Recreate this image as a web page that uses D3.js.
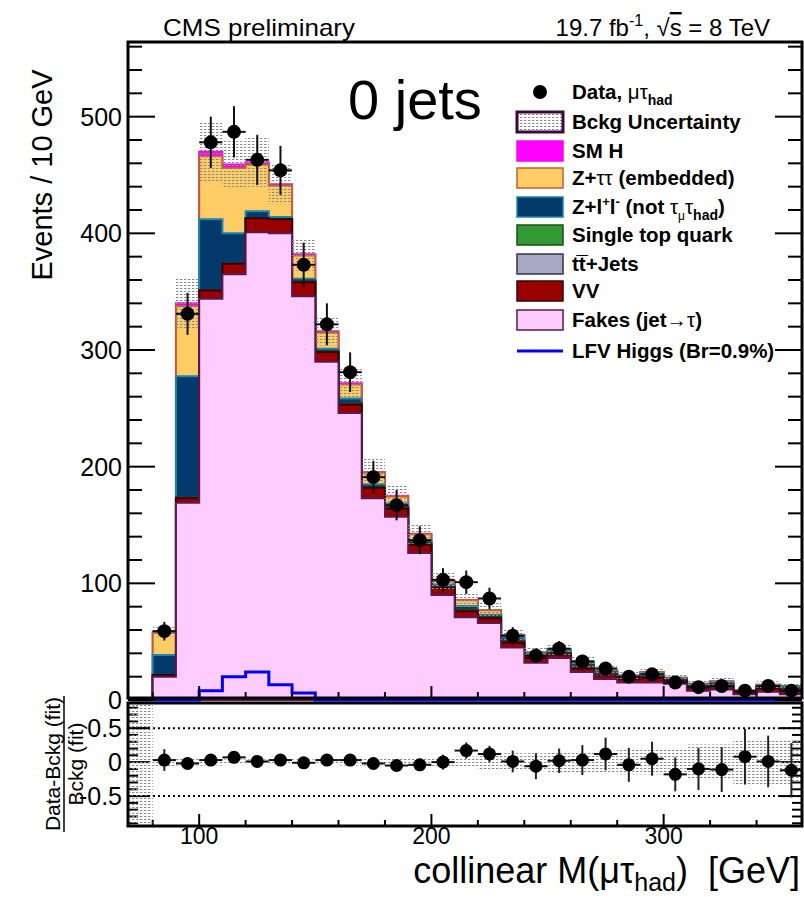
<!DOCTYPE html>
<html>
<head>
<meta charset="utf-8">
<script src="https://cdn.jsdelivr.net/npm/d3@7"></script>
<style>
  body { margin: 0; background: #fff; }
  svg { display: block; font-family: "Liberation Sans", Arial, Helvetica, sans-serif; }
</style>
</head>
<body>
<div id="chart"></div>
<script>
// Bins (lower edges, GeV)
const binLow = [80, 90, 100, 110, 120, 130, 140, 150, 160, 170, 180, 190, 200, 210,
                220, 230, 240, 250, 260, 270, 280, 290, 300, 310, 320, 330, 340, 350];
const binWidth = 10;

// Stacked backgrounds (events / bin)
const fakes = [20, 169, 344, 365, 401, 400, 346, 290, 246, 173, 157, 126, 90, 71,
               66, 45, 32, 36, 24, 18, 15, 15, 14, 8, 9, 5, 7, 5];
const vv = [1.5, 4, 7, 9, 12, 12, 12, 8, 7, 9, 7, 7, 6, 5,
            4, 4, 4, 3, 3, 3, 3, 4, 2, 3, 3, 1.5, 3, 3];
const ttjets = [0, 0.5, 0.5, 0.5, 0, 0, 1, 0.5, 1, 0.5, 1, 1, 1, 1,
                1, 1, 1, 1, 1.5, 1.5, 1, 1.5, 1, 1, 1.5, 0.5, 1, 1.5];
const singleTop = [0, 0, 0, 0, 0, 0, 0.5, 0.5, 0.5, 0.5, 0.5, 0.5, 0.5, 0.5,
                   1, 0.5, 0.5, 0.5, 1.5, 1, 0.5, 1, 0.5, 0.5, 0.5, 0.3, 0.5, 0.5];
const zll = [17, 104, 60.5, 25.5, 6, 2, 1.5, 2, 4, 2, 3, 2.5, 1.5, 3,
             1, 3, 2, 2, 2, 1, 1, 1.5, 1, 1, 1.5, 0.5, 1, 1.5];
const ztt = [19, 60, 54, 56, 40, 27, 20, 14, 12, 10, 6, 5, 3, 5,
             4, 2, 1.5, 1, 1, 0.5, 0.5, 1, 0.5, 0.5, 0.5, 0.2, 0.5, 0.5];
const smh = [1, 2.5, 4, 3, 2, 1, 1, 1, 1, 0.5, 0.5, 0.5, 0.3, 0.3,
             0.2, 0.2, 0.1, 0.1, 0, 0, 0, 0, 0, 0, 0, 0, 0, 0];
const bkgUnc = [4, 22, 26, 20, 21, 17, 14, 12, 13, 11, 9, 9, 8, 6,
                7, 5, 4, 5, 5, 4, 4, 4, 3, 3, 3, 2, 3, 3];

// Signal (LFV Higgs, Br = 0.9%)
const lfv = [0, 0, 8, 20, 24, 13, 6, 0, 0, 0, 0, 0, 0, 0,
             0, 0, 0, 0, 0, 0, 0, 0, 0, 0, 0, 0, 0, 0];

// Data
const dataCounts = [59, 331, 478, 487, 463, 454, 373, 322, 281, 191, 167, 137, 103, 101,
                    87, 55, 38, 44, 33, 27, 20, 22, 15, 11, 12, 8, 12, 8];
const dataErr = [8, 18, 22, 22, 21.5, 21, 19, 18, 17, 14, 13, 12, 10, 10,
                 9.3, 7.4, 6.2, 6.6, 5.7, 5.2, 4.5, 4.7, 3.9, 3.3, 3.5, 2.8, 3.5, 2.8];

// Ratio panel (Data-Bckg)/Bckg
const ratio = [0.03, -0.02, 0.03, 0.07, 0.01, 0.03, -0.01, 0.03, 0.03, -0.02, -0.05, -0.04, 0.0, 0.17,
               0.12, 0.01, -0.06, 0.02, 0.03, 0.12, -0.04, 0.05, -0.18, -0.10, -0.11, 0.08, 0.01, -0.12];
const ratioErr = [0.16, 0.06, 0.05, 0.05, 0.05, 0.05, 0.05, 0.06, 0.06, 0.07, 0.08, 0.09, 0.11, 0.12,
                  0.12, 0.16, 0.19, 0.18, 0.22, 0.24, 0.25, 0.25, 0.25, 0.31, 0.33, 0.41, 0.38, 0.4];
// band bins start at 70 GeV (no background there)
const ratioBandLow = [70].concat(binLow);
const ratioUnc = [2, 0.07, 0.05, 0.05, 0.04, 0.04, 0.04, 0.04, 0.04, 0.05, 0.05, 0.05, 0.06, 0.06, 0.08,
                  0.11, 0.13, 0.13, 0.15, 0.15, 0.15, 0.18, 0.18, 0.18, 0.26, 0.26, 0.33, 0.33, 0.33];

// Axis ticks
const xTicks = [100, 200, 300];
const yTicksMain = [0, 100, 200, 300, 400, 500];
const yTicksRatio = [-0.5, 0, 0.5];

// Colors [fill, line]
const colors = {
  fakes: ["#ffccff", "#5a1a50"],
  vv: ["#990000", "#3a0000"],
  ttjets: ["#a9a9c6", "#333344"],
  singleTop: ["#339933", "#1b4d1b"],
  zll: ["#033a6b", "#1a86ad"],
  ztt: ["#ffcc66", "#c0602e"],
  smh: ["#ff00ff", "#ff00ff"]
};

const W = 804, H = 897;
const left = 128, right = 802;
const mainTop = 42, mainBottom = 698;
const ratioTop = 703, ratioBottom = 826;

const svg = d3.select("#chart").append("svg")
  .attr("width", W).attr("height", H);

const defs = svg.append("defs");
const pat = defs.append("pattern")
  .attr("id", "hatch")
  .attr("patternUnits", "userSpaceOnUse")
  .attr("width", 4).attr("height", 3);
pat.append("rect").attr("x", 0).attr("y", 0).attr("width", 2.4).attr("height", 1)
  .attr("fill", "#8a8a8a");

defs.append("clipPath").attr("id", "clipMain").append("rect")
  .attr("x", left).attr("y", mainTop).attr("width", right - left).attr("height", mainBottom - mainTop + 4);
defs.append("clipPath").attr("id", "clipRatio").append("rect")
  .attr("x", left).attr("y", ratioTop).attr("width", right - left).attr("height", ratioBottom - ratioTop);

// Scales
const x = d3.scaleLinear().domain([70, 360]).range([129.5, 803]);
const y = d3.scaleLinear().domain([0, 564]).range([700, 42]);
const yr = d3.scaleLinear().domain([-0.94, 0.87]).range([826, 703]);

// ---------- main panel ----------
const gMain = svg.append("g").attr("clip-path", "url(#clipMain)");

const rows = binLow.map((b, i) => ({
  b, fakes: fakes[i], vv: vv[i], ttjets: ttjets[i], singleTop: singleTop[i],
  zll: zll[i], ztt: ztt[i], smh: smh[i]
}));
const keys = ["fakes", "vv", "ttjets", "singleTop", "zll", "ztt", "smh"];
const series = d3.stack().keys(keys)(rows);

function stepPts(vals) {
  const pts = binLow.map((b, i) => [b, vals[i]]);
  pts.push([binLow[binLow.length - 1] + binWidth, vals[vals.length - 1]]);
  return pts;
}

const area = d3.area()
  .x(d => x(d[0]))
  .y0(y(0))
  .y1(d => y(d[1]))
  .curve(d3.curveStepAfter);

// ROOT-like: draw cumulative histograms from the top of the stack down
series.slice().reverse().forEach(s => {
  const tops = s.map(d => d[1]);
  gMain.append("path")
    .datum(stepPts(tops))
    .attr("d", area)
    .attr("fill", colors[s.key][0])
    .attr("stroke", colors[s.key][1])
    .attr("stroke-width", 2)
    .attr("stroke-linejoin", "miter");
});

const totals = series[series.length - 1].map(d => d[1]);

// background uncertainty band
gMain.selectAll(".unc").data(binLow).enter().append("rect")
  .attr("x", d => x(d))
  .attr("width", d => x(d + binWidth) - x(d))
  .attr("y", (d, i) => y(totals[i] + bkgUnc[i]))
  .attr("height", (d, i) => y(totals[i] - bkgUnc[i]) - y(totals[i] + bkgUnc[i]))
  .attr("fill", "url(#hatch)");

// LFV signal line
const lfvPts = [[70, 0]].concat(stepPts(lfv)).concat([[360, 0]]);
gMain.append("path")
  .datum(lfvPts)
  .attr("d", d3.line().x(d => x(d[0])).y(d => y(d[1])).curve(d3.curveStepAfter))
  .attr("fill", "none")
  .attr("stroke", "#0000ff")
  .attr("stroke-width", 3);

// data points
const gData = svg.append("g");
binLow.forEach((b, i) => {
  const cx = x(b + binWidth / 2), cy = y(dataCounts[i]);
  gData.append("line")
    .attr("x1", cx).attr("x2", cx)
    .attr("y1", y(dataCounts[i] - dataErr[i])).attr("y2", y(dataCounts[i] + dataErr[i]))
    .attr("stroke", "#111").attr("stroke-width", 2);
  gData.append("line")
    .attr("x1", x(b)).attr("x2", x(b + binWidth))
    .attr("y1", cy).attr("y2", cy)
    .attr("stroke", "#111").attr("stroke-width", 2);
  gData.append("circle").attr("cx", cx).attr("cy", cy).attr("r", 7).attr("fill", "#000");
});

// main frame + ticks
svg.append("rect")
  .attr("x", left).attr("y", mainTop)
  .attr("width", right - left).attr("height", mainBottom - mainTop)
  .attr("fill", "none").attr("stroke", "#000").attr("stroke-width", 3);

const gAxes = svg.append("g").attr("stroke", "#000").attr("stroke-width", 2);
d3.range(0, 561, 20).forEach(v => {
  const major = v % 100 === 0;
  const len = major ? 27 : 14;
  gAxes.append("line").attr("x1", left).attr("x2", left + len).attr("y1", y(v)).attr("y2", y(v));
  gAxes.append("line").attr("x1", right - len).attr("x2", right).attr("y1", y(v)).attr("y2", y(v));
});
d3.range(80, 360, 20).forEach(v => {
  const major = v % 100 === 0;
  const len = major ? 12 : 6;
  gAxes.append("line").attr("x1", x(v)).attr("x2", x(v)).attr("y1", mainBottom).attr("y2", mainBottom - len);
  gAxes.append("line").attr("x1", x(v)).attr("x2", x(v)).attr("y1", ratioBottom).attr("y2", ratioBottom - len);
});

svg.append("g").selectAll("text").data(yTicksMain).enter().append("text")
  .attr("x", 122).attr("y", d => y(d) + 9)
  .attr("text-anchor", "end")
  .attr("font-size", 25)
  .text(d => d);

// ---------- ratio panel ----------
const gRatio = svg.append("g").attr("clip-path", "url(#clipRatio)");
gRatio.selectAll(".runc").data(ratioBandLow).enter().append("rect")
  .attr("x", d => x(d))
  .attr("width", d => x(d + binWidth) - x(d))
  .attr("y", (d, i) => yr(ratioUnc[i]))
  .attr("height", (d, i) => yr(-ratioUnc[i]) - yr(ratioUnc[i]))
  .attr("fill", "url(#hatch)");

[0.5, -0.5].forEach(v => {
  gRatio.append("line")
    .attr("x1", left).attr("x2", right).attr("y1", yr(v)).attr("y2", yr(v))
    .attr("stroke", "#000").attr("stroke-width", 2).attr("stroke-dasharray", "2,3");
});

binLow.forEach((b, i) => {
  const cx = x(b + binWidth / 2), cy = yr(ratio[i]);
  gRatio.append("line")
    .attr("x1", cx).attr("x2", cx)
    .attr("y1", yr(ratio[i] - ratioErr[i])).attr("y2", yr(ratio[i] + ratioErr[i]))
    .attr("stroke", "#222").attr("stroke-width", 2);
  gRatio.append("line")
    .attr("x1", x(b)).attr("x2", x(b + binWidth))
    .attr("y1", cy).attr("y2", cy)
    .attr("stroke", "#111").attr("stroke-width", 2);
  gRatio.append("circle").attr("cx", cx).attr("cy", cy).attr("r", 6.5).attr("fill", "#000");
});

svg.append("rect")
  .attr("x", left).attr("y", ratioTop)
  .attr("width", right - left).attr("height", ratioBottom - ratioTop)
  .attr("fill", "none").attr("stroke", "#000").attr("stroke-width", 3);

d3.range(-0.9, 0.85, 0.1).forEach(v => {
  const major = Math.abs(Math.round(v * 10) % 5) === 0;
  const len = major ? 22 : 10;
  gAxes.append("line").attr("x1", left).attr("x2", left + len).attr("y1", yr(v)).attr("y2", yr(v));
  gAxes.append("line").attr("x1", right - len).attr("x2", right).attr("y1", yr(v)).attr("y2", yr(v));
});

svg.append("g").selectAll("text").data(yTicksRatio).enter().append("text")
  .attr("x", 122).attr("y", d => yr(d) + 9)
  .attr("text-anchor", "end")
  .attr("font-size", 25)
  .text(d => d === -0.5 ? "-0.5" : d);

svg.append("g").selectAll("text").data(xTicks).enter().append("text")
  .attr("x", d => x(d)).attr("y", 844)
  .attr("text-anchor", "middle")
  .attr("font-size", 23)
  .text(d => d);

// ---------- titles ----------
svg.append("text")
  .attr("x", 163).attr("y", 36)
  .attr("font-size", 24)
  .attr("textLength", 192).attr("lengthAdjust", "spacingAndGlyphs")
  .text("CMS preliminary");

const lumi = svg.append("text").attr("x", 770).attr("y", 36)
  .attr("text-anchor", "end").attr("font-size", 24);
lumi.append("tspan").text("19.7 fb");
lumi.append("tspan").attr("dy", -10).attr("font-size", 16).text("-1");
lumi.append("tspan").attr("dy", 10).text(", \u221A");
lumi.append("tspan").style("text-decoration", "overline").text("s");
lumi.append("tspan").text(" = 8 TeV");

svg.append("text")
  .attr("x", 348).attr("y", 119)
  .attr("font-size", 56)
  .text("0 jets");

svg.append("text")
  .attr("transform", "translate(52,175) rotate(-90)")
  .attr("text-anchor", "middle")
  .attr("font-size", 29)
  .text("Events / 10 GeV");

const xt = svg.append("text").attr("x", 800).attr("y", 883)
  .attr("text-anchor", "end").attr("font-size", 36)
  .style("white-space", "pre");
xt.append("tspan").text("collinear M(\u03BC\u03C4");
xt.append("tspan").attr("dy", 8).attr("font-size", 25).text("had");
xt.append("tspan").attr("dy", -8).text(")  [GeV]");

// ratio y title (fraction)
const rt = svg.append("g").attr("transform", "translate(0,764) rotate(-90)");
rt.append("text").attr("x", 0).attr("y", 60).attr("text-anchor", "middle")
  .attr("font-size", 21).text("Data-Bckg (fit)");
rt.append("line").attr("x1", -68).attr("x2", 68).attr("y1", 64).attr("y2", 64)
  .attr("stroke", "#000").attr("stroke-width", 1.5);
rt.append("text").attr("x", 0).attr("y", 83).attr("text-anchor", "middle")
  .attr("font-size", 21).text("Bckg (fit)");

// ---------- legend ----------
const legendItems = [
  { type: "data" },
  { type: "box", key: "unc" },
  { type: "box", key: "smh" },
  { type: "box", key: "ztt" },
  { type: "box", key: "zll" },
  { type: "box", key: "singleTop" },
  { type: "box", key: "ttjets" },
  { type: "box", key: "vv" },
  { type: "box", key: "fakes" },
  { type: "line" }
];
const legendY = [92, 122, 151, 178, 207, 235, 264, 291, 320, 351];
const lg = svg.append("g").attr("font-size", 20.5).attr("font-weight", "bold");

legendItems.forEach((it, i) => {
  const cy = legendY[i];
  if (it.type === "data") {
    lg.append("circle").attr("cx", 540).attr("cy", cy).attr("r", 7).attr("fill", "#000");
  } else if (it.type === "line") {
    lg.append("line").attr("x1", 517).attr("x2", 563).attr("y1", cy).attr("y2", cy)
      .attr("stroke", "#0000ff").attr("stroke-width", 3);
  } else if (it.key === "unc") {
    lg.append("rect").attr("x", 517).attr("y", cy - 10).attr("width", 46).attr("height", 20)
      .attr("fill", "url(#hatch)").attr("stroke", "#3a0a3a").attr("stroke-width", 3);
  } else {
    lg.append("rect").attr("x", 517).attr("y", cy - 10).attr("width", 46).attr("height", 20)
      .attr("fill", colors[it.key][0]).attr("stroke", colors[it.key][1]).attr("stroke-width", 1.5);
  }
});

function legText(i) {
  return lg.append("text").attr("x", 572).attr("y", legendY[i] + 7);
}
let t = legText(0);
t.append("tspan").text("Data, ");
t.append("tspan").attr("font-weight", "normal").text("\u03BC\u03C4");
t.append("tspan").attr("dy", 6).attr("font-size", 14).text("had");

legText(1).text("Bckg Uncertainty");
legText(2).text("SM H");

t = legText(3);
t.append("tspan").text("Z+");
t.append("tspan").attr("font-weight", "normal").text("\u03C4\u03C4");
t.append("tspan").text(" (embedded)");

t = legText(4);
t.append("tspan").text("Z+l");
t.append("tspan").attr("dy", -8).attr("font-size", 13).text("+");
t.append("tspan").attr("dy", 8).text("l");
t.append("tspan").attr("dy", -8).attr("font-size", 13).text("-");
t.append("tspan").attr("dy", 8).text(" (not ");
t.append("tspan").attr("font-weight", "normal").text("\u03C4");
t.append("tspan").attr("dy", 6).attr("font-size", 12).attr("font-weight", "normal").text("\u03BC");
t.append("tspan").attr("dy", -6).attr("font-weight", "normal").text("\u03C4");
t.append("tspan").attr("dy", 6).attr("font-size", 14).text("had");
t.append("tspan").attr("dy", -6).text(")");

legText(5).text("Single top quark");
legText(6).text("t\u0074\u0305+Jets");
legText(7).text("VV");
t = legText(8);
t.append("tspan").text("Fakes (jet");
t.append("tspan").attr("font-weight", "normal").text("\u2192\u03C4");
t.append("tspan").text(")");
legText(9).text("LFV Higgs (Br=0.9%)");
</script>
</body>
</html>
